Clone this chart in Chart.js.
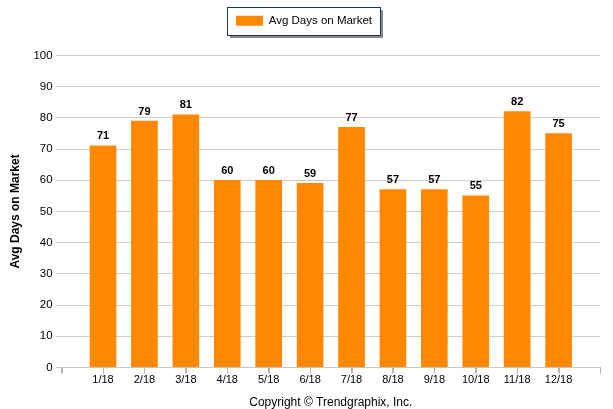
<!DOCTYPE html>
<html>
<head>
<meta charset="utf-8">
<script src="https://cdn.jsdelivr.net/npm/chart.js@4/dist/chart.umd.min.js"></script>
<style>
  html, body { margin: 0; padding: 0; background: #fff; }
  #wrap { width: 613px; height: 409px; position: relative; }
</style>
</head>
<body>
<div id="wrap"><canvas id="c" width="613" height="409"></canvas></div>
<script>
const categories = ['1/18','2/18','3/18','4/18','5/18','6/18','7/18','8/18','9/18','10/18','11/18','12/18'];
const avgDays = [71, 79, 81, 60, 60, 59, 77, 57, 57, 55, 82, 75];
const yTicks = [0, 10, 20, 30, 40, 50, 60, 70, 80, 90, 100];
const seriesName = 'Avg Days on Market';
const copyrightText = 'Copyright \u00A9 Trendgraphix, Inc.';

const labels = [''].concat(categories, ['']);
const values = [null].concat(avgDays, [null]);

const FONT = '"Liberation Sans", Arial, sans-serif';

const valueLabels = {
  id: 'valueLabels',
  afterDatasetsDraw(chart) {
    const ctx = chart.ctx;
    const meta = chart.getDatasetMeta(0);
    ctx.save();
    ctx.font = 'bold 11px ' + FONT;
    ctx.fillStyle = '#000';
    ctx.textAlign = 'center';
    ctx.textBaseline = 'bottom';
    meta.data.forEach((bar, i) => {
      const v = values[i];
      if (v === null || v === undefined) return;
      ctx.fillText(String(v), bar.x, bar.y - 4);
    });
    ctx.restore();
  }
};

// tick marks under every category position of the x scale
const xTickMarks = {
  id: 'xTickMarks',
  afterDraw(chart) {
    const sc = chart.scales.x;
    const ctx = chart.ctx;
    ctx.save();
    ctx.strokeStyle = '#b4b4b4';
    ctx.lineWidth = 1;
    ctx.beginPath();
    for (let i = 0; i < sc.ticks.length; i++) {
      const px = Math.round(sc.getPixelForTick(i)) + 0.5;
      ctx.moveTo(px, sc.top);
      ctx.lineTo(px, sc.top + 6);
    }
    ctx.stroke();
    ctx.restore();
  }
};

// give the legend block extra room below it
const legendSpace = {
  id: 'legendSpace',
  afterInit(chart) {
    const lg = chart.legend;
    if (!lg) return;
    const fit = lg.fit;
    lg.fit = function () { fit.call(this); this.height += 19; };
  }
};

const legendFrame = {
  id: 'legendFrame',
  afterDraw(chart) {
    const lg = chart.legend;
    if (!lg || !lg.legendHitBoxes || !lg.legendHitBoxes.length) return;
    const h = lg.legendHitBoxes[0];
    const ctx = chart.ctx;
    const x = Math.round(h.left - 9) + 0.5;
    const y = Math.round(h.top - 8) + 0.5;
    const w = Math.round(h.width + 17);
    const hh = Math.round(h.height + 16);
    ctx.save();
    ctx.fillStyle = '#8a8a8a';
    ctx.fillRect(x + 2.5, y + 2.5, w, hh);
    ctx.fillStyle = '#fff';
    ctx.fillRect(x, y, w, hh);
    ctx.strokeStyle = '#1f3550';
    ctx.lineWidth = 1;
    ctx.strokeRect(x, y, w, hh);
    ctx.restore();
    lg.draw();
  }
};

new Chart(document.getElementById('c'), {
  type: 'bar',
  data: {
    labels: labels,
    datasets: [{
      label: seriesName,
      data: values,
      backgroundColor: '#FF8800',
      borderWidth: 0,
      barThickness: 26
    }]
  },
  options: {
    responsive: false,
    animation: false,
    devicePixelRatio: 1,
    layout: { padding: { left: 8, right: 13, top: 0, bottom: -1 } },
    plugins: {
      legend: {
        display: true,
        position: 'top',
        labels: {
          boxWidth: 27,
          boxHeight: 10,
          color: '#000',
          font: { family: FONT, size: 11.5 },
          padding: 15
        }
      },
      title: {
        display: true,
        position: 'bottom',
        fullSize: false,
        text: copyrightText,
        color: '#000',
        font: { family: FONT, size: 12, weight: 'normal' },
        padding: { top: 9, bottom: 0 }
      },
      tooltip: { enabled: false }
    },
    scales: {
      x: {
        type: 'category',
        offset: false,
        grid: {
          display: true,
          offset: false,
          drawOnChartArea: false,
          drawTicks: true,
          tickLength: 6,
          tickColor: '#b4b4b4',
          color: '#b4b4b4'
        },
        border: { display: true, color: '#c8c8c8' },
        ticks: {
          color: '#000',
          font: { family: FONT, size: 11 },
          maxRotation: 0,
          autoSkip: false,
          padding: 0
        }
      },
      y: {
        min: 0,
        max: 100,
        afterBuildTicks(scale) { scale.ticks = yTicks.map(v => ({ value: v })); },
        grid: {
          color: '#cccccc',
          tickLength: 6,
          drawTicks: true
        },
        border: { display: false },
        ticks: {
          color: '#000',
          font: { family: FONT, size: 11.5 },
          padding: 3
        },
        title: {
          display: true,
          text: seriesName,
          color: '#000',
          font: { family: FONT, size: 12, weight: 'bold' },
          padding: { top: 0, bottom: 8 }
        }
      }
    }
  },
  plugins: [legendSpace, legendFrame, valueLabels, xTickMarks]
});
</script>
</body>
</html>
